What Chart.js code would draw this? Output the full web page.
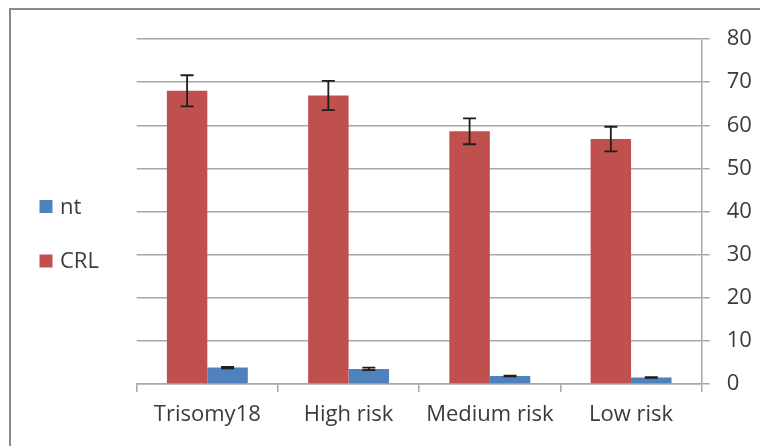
<!DOCTYPE html>
<html>
<head>
<meta charset="utf-8">
<script src="https://cdn.jsdelivr.net/npm/chart.js@4"></script>
<style>
  html, body { margin: 0; padding: 0; background: #ffffff; }
  #wrap { width: 760px; height: 446px; position: relative; }
</style>
</head>
<body>
<div id="wrap"><canvas id="c" width="760" height="446"></canvas></div>
<script>
const categories = ['Trisomy18', 'High risk', 'Medium risk', 'Low risk'];
const crlValues = [68.0, 66.9, 58.6, 56.8];
const crlErrors = [3.6, 3.4, 3.0, 2.85];
const ntValues = [3.8, 3.5, 1.85, 1.5];
const ntErrors = [0.15, 0.3, 0.1, 0.1];
const seriesNames = ['CRL', 'nt'];
const legendOrder = ['nt', 'CRL'];
const yMin = 0, yMax = 80, yStep = 10;

const FONT = "'Open Sans', 'Liberation Sans', sans-serif";
const TEXT = '#3b3b3b';
const GRID = '#a8a8a8';

const errorBars = {
  id: 'errorBars',
  afterDatasetsDraw(chart) {
    const ctx = chart.ctx;
    const ys = chart.scales.y;
    chart.data.datasets.forEach((ds, i) => {
      const meta = chart.getDatasetMeta(i);
      meta.data.forEach((el, j) => {
        const v = ds.data[j], e = ds.errors[j];
        const x = el.x;
        const t = ys.getPixelForValue(v + e);
        const b = ys.getPixelForValue(v - e);
        ctx.save();
        ctx.strokeStyle = '#1e1e1e';
        ctx.lineWidth = 1.8;
        ctx.beginPath();
        ctx.moveTo(x, t); ctx.lineTo(x, b);
        ctx.moveTo(x - 6.5, t); ctx.lineTo(x + 6.5, t);
        ctx.moveTo(x - 6.5, b); ctx.lineTo(x + 6.5, b);
        ctx.stroke();
        ctx.restore();
      });
    });
  }
};

const frameAndLegend = {
  id: 'frameAndLegend',
  beforeDraw(chart) {
    const ctx = chart.ctx;
    ctx.save();
    ctx.fillStyle = '#ffffff';
    ctx.fillRect(0, 0, chart.width, chart.height);
    ctx.strokeStyle = '#8a8a8a';
    ctx.lineWidth = 2;
    ctx.strokeRect(10, 9, chart.width + 20, chart.height + 20);
    ctx.restore();
  },
  afterDraw(chart) {
    const ctx = chart.ctx;
    ctx.save();
    ctx.font = '22px ' + FONT;
    ctx.textBaseline = 'middle';
    ctx.textAlign = 'left';
    const ys = [206.5, 261];
    legendOrder.forEach((name, k) => {
      const ds = chart.data.datasets.find(d => d.label === name);
      ctx.fillStyle = ds.backgroundColor;
      ctx.fillRect(39.5, ys[k] - 6.5, 13, 13);
      ctx.fillStyle = TEXT;
      ctx.fillText(name, 60, ys[k] + 1);
    });
    ctx.restore();
  }
};

new Chart(document.getElementById('c'), {
  type: 'bar',
  data: {
    labels: categories,
    datasets: [
      { label: seriesNames[0], data: crlValues, errors: crlErrors, backgroundColor: '#C0504D',
        categoryPercentage: 0.573, barPercentage: 1.0 },
      { label: seriesNames[1], data: ntValues, errors: ntErrors, backgroundColor: '#4F81BD',
        categoryPercentage: 0.573, barPercentage: 1.0 }
    ]
  },
  options: {
    responsive: false,
    animation: false,
    devicePixelRatio: 1,
    layout: { padding: { left: 136.7, top: 39, right: 0, bottom: 0 } },
    plugins: { legend: { display: false }, tooltip: { enabled: false } },
    scales: {
      x: {
        grid: { display: true, drawOnChartArea: false, drawTicks: true, tickLength: 8, offset: true, color: GRID, lineWidth: 1.5 },
        border: { display: true, color: GRID, width: 1.5 },
        ticks: { color: TEXT, font: { family: FONT, size: 22 }, padding: 10, maxRotation: 0 },
        afterFit(scale) { scale.height = 62; }
      },
      y: {
        position: 'right',
        min: yMin, max: yMax,
        grid: { color: GRID, lineWidth: 1.5, drawTicks: true, tickLength: 8 },
        border: { display: true, color: GRID, width: 1.5 },
        ticks: { stepSize: yStep, color: TEXT, font: { family: FONT, size: 22 }, padding: 17 },
        afterFit(scale) { scale.width = 58.3; }
      }
    }
  },
  plugins: [frameAndLegend, errorBars]
});
</script>
</body>
</html>
